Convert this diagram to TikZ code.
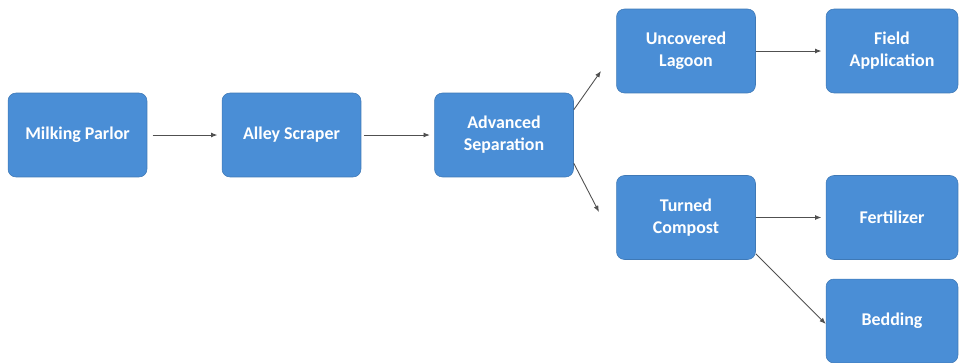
\documentclass[tikz,border=0pt]{standalone}
\usepackage{fontspec}
\setmainfont{Carlito}
\usetikzlibrary{arrows.meta}
\definecolor{boxblue}{RGB}{74,142,214}
\definecolor{arrowgray}{RGB}{80,80,80}

\begin{document}
\begin{tikzpicture}[x=0.02cm,y=-0.02cm]
  \tikzset{every node/.style={inner sep=0pt},font={\fontsize{10.2}{12.6}\selectfont\bfseries}}
  \tikzstyle{stage}=[draw=boxblue!85!black,line width=0.3pt,fill=boxblue,rounded corners=4.5pt,text=white,align=center,minimum width=2.78cm,minimum height=1.68cm]
  \tikzstyle{flow}=[arrowgray,line width=0.5pt,-{Latex[length=3.6pt,width=2.8pt]}]

  \useasboundingbox (0,0) rectangle (960,362);

  % main chain
  \node[stage] (milk)  at (77.5,135) {Milking Parlor};
  \node[stage] (alley) at (291.5,135) {Alley Scraper};
  \node[stage] (adv)   at (504,135) {Advanced\\Separation};

  % treatment
  \node[stage] (lagoon)  at (686,51)    {Uncovered\\Lagoon};
  \node[stage] (compost) at (686,217.5) {Turned\\Compost};

  % end uses
  \node[stage,minimum width=2.64cm] (field)   at (892,51)    {Field\\Application};
  \node[stage,minimum width=2.64cm] (fert)    at (892,217.5) {Fertilizer};
  \node[stage,minimum width=2.64cm] (bedding) at (892,321)   {Bedding};

  % free ends of the split
  \coordinate (toLagoon)  at (601,71);
  \coordinate (toCompost) at (599,212);

  % arrows
  \draw[flow,shorten <=3pt,shorten >=2.5pt] (milk) -- (alley);
  \draw[flow,shorten <=1.5pt,shorten >=2.5pt] (alley) -- (adv);
  \draw[flow] ([yshift=-0.34cm]adv.north east) -- (toLagoon);
  \draw[flow] ([yshift=0.28cm]adv.south east) -- (toCompost);
  \draw[flow,shorten >=2.5pt] (lagoon) -- (field);
  \draw[flow,shorten >=2.5pt] (compost) -- (fert);
  \draw[flow] ([yshift=0.12cm]compost.south east) -- ([yshift=-0.06cm]bedding.west);

\end{tikzpicture}
\end{document}
